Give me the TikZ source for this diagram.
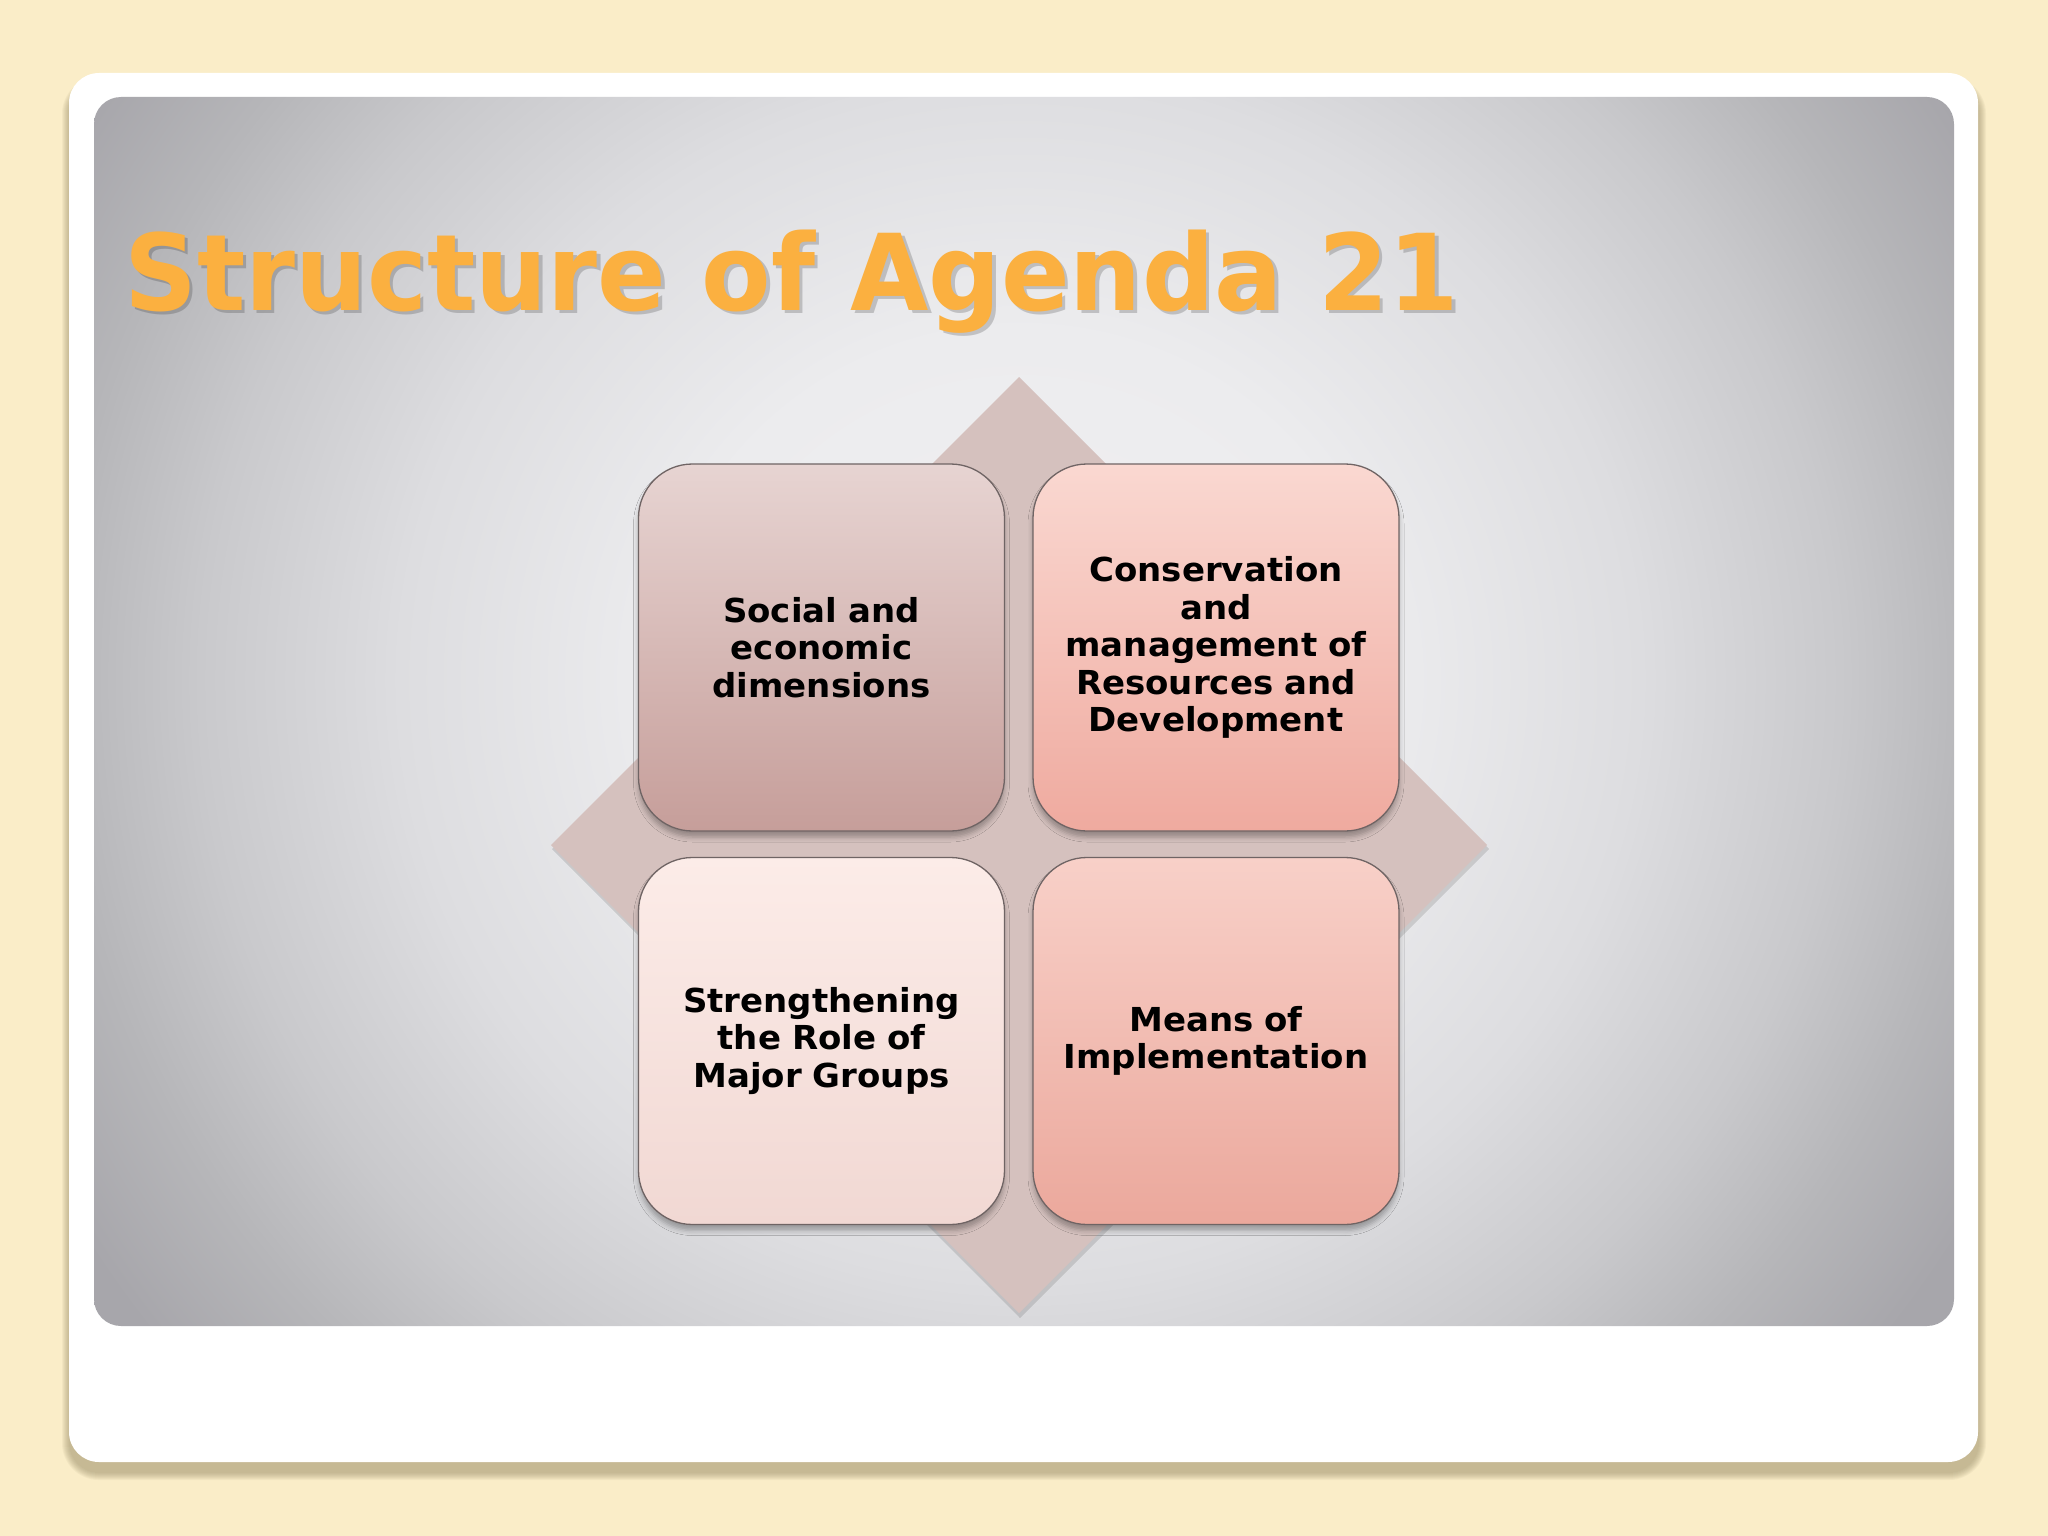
\documentclass[tikz,border=0pt]{standalone}
\usepackage{fontspec}
\usepackage{graphicx}
\setmainfont{DejaVu Sans}
\newfontfamily\boxfont[FakeStretch=1.03]{DejaVu Sans}
\usetikzlibrary{shadows.blur}
\definecolor{cream}{HTML}{FAEDC8}
\definecolor{cardshadow}{HTML}{8F8460}
\definecolor{pc0}{HTML}{F1F0F2}
\definecolor{pc1}{HTML}{ECECEE}
\definecolor{pc2}{HTML}{DDDDE0}
\definecolor{pc3}{HTML}{C9C9CC}
\definecolor{pc4}{HTML}{B6B6B9}
\definecolor{pc5}{HTML}{A7A6AB}
\definecolor{pc6}{HTML}{A4A3A8}
\definecolor{diamondc}{HTML}{D5C1BE}
\definecolor{boxline}{HTML}{6F6464}
\definecolor{titleorange}{HTML}{FBB040}
\definecolor{tlTop}{HTML}{E7D4D2}
\definecolor{tlBot}{HTML}{C69E9A}
\definecolor{trTop}{HTML}{FAD8D1}
\definecolor{trBot}{HTML}{EFAA9F}
\definecolor{blTop}{HTML}{FCECE8}
\definecolor{blBot}{HTML}{F1D8D3}
\definecolor{brTop}{HTML}{F8D0C8}
\definecolor{brBot}{HTML}{EBA89C}
\pgfdeclareradialshading{panelshade}{\pgfpoint{0bp}{0bp}}{%
  color(0bp)=(pc0); color(9bp)=(pc1); color(15.5bp)=(pc2);
  color(20.5bp)=(pc3); color(24bp)=(pc4); color(27.5bp)=(pc5); color(40bp)=(pc6)}
\tikzset{
  quad/.style={rounded corners=54pt, draw=boxline, line width=1.3pt,
    minimum width=366pt, minimum height=367pt, text width=340pt,
    align=center, inner sep=0pt,
    font=\boxfont\fontsize{33}{37.5}\selectfont\bfseries,
    blur shadow={shadow xshift=0pt, shadow yshift=-6pt,
      shadow blur radius=5pt, shadow opacity=30}},
  titlefont/.style={font=\fontsize{106}{120}\selectfont\bfseries}
}
\begin{document}
\begin{tikzpicture}[x=1pt,y=-1pt]
\useasboundingbox (0,0) rectangle (2048,1536);
\fill[cream] (0,0) rectangle (2048,1536);
% card shadow
\foreach \k in {0,...,7}{
  \fill[cardshadow, opacity=0.075, rounded corners={30pt+\k pt}]
    ({69-\k},{84-\k}) rectangle ({1979+\k},{1473+\k});
}
% white card
\fill[white, rounded corners=30pt] (69,73) rectangle (1978,1462);
% grey panel
\begin{scope}
\clip[rounded corners=27pt] (94,97) rectangle (1954,1326);
\shade[shading=panelshade] (20,-290) rectangle (2020,1650);
\end{scope}
% title
\node[titlefont, anchor=base west, inner sep=0pt, text=black, opacity=0.18]
  (titleshadow) at (127.5,313.5) {\scalebox{0.955}[1]{Structure of Agenda 21}};
\node[titlefont, anchor=base west, inner sep=0pt, text=titleorange]
  (title) at (124,310) {\scalebox{0.955}[1]{Structure of Agenda 21}};
% diamond
\fill[black, opacity=0.12] (1020,380) -- (1489,849) -- (1020,1318) -- (552,849) -- cycle;
\fill[diamondc] (1019,377) -- (1487,845) -- (1019,1313) -- (551,845) -- cycle;
% four boxes
\node[quad, top color=tlTop, bottom color=tlBot] (b1) at (821.5,647.5)
  {Social and\\economic\\dimensions};
\node[quad, top color=trTop, bottom color=trBot] (b2) at (1216,647.5)
  {Conservation\\and\\management of\\Resources and\\Development};
\node[quad, top color=blTop, bottom color=blBot] (b3) at (821.5,1041)
  {Strengthening\\the Role of\\Major Groups};
\node[quad, top color=brTop, bottom color=brBot] (b4) at (1216,1041)
  {Means of\\Implementation};
\end{tikzpicture}
\end{document}
